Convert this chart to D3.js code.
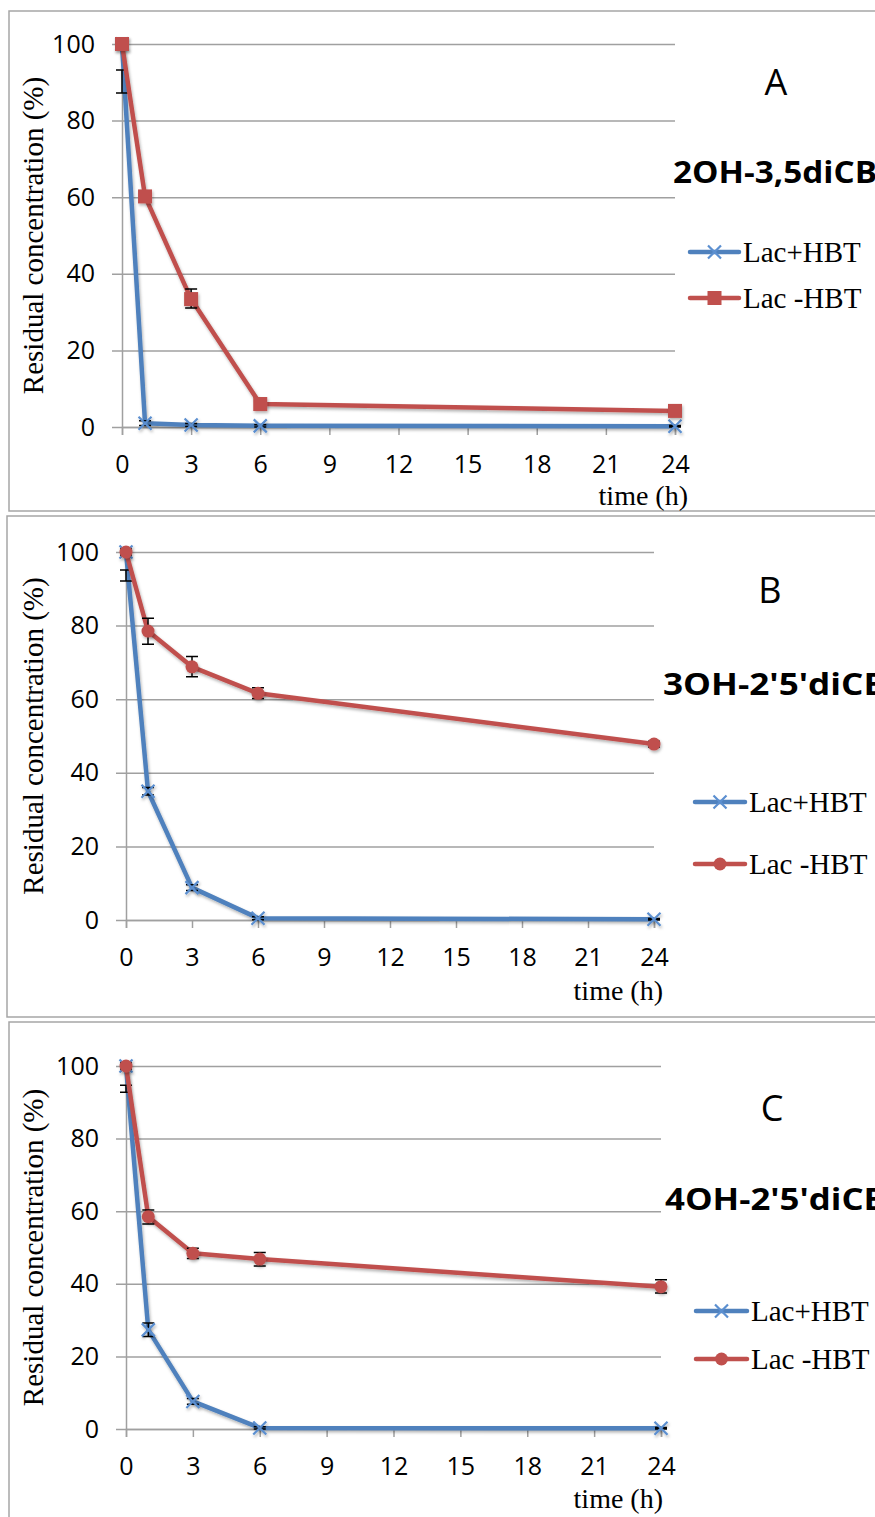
<!DOCTYPE html>
<html>
<head>
<meta charset="utf-8">
<script src="https://cdn.jsdelivr.net/npm/d3@7"></script>
<style>
  body { margin: 0; background: #fff; }
  svg { display: block; }
</style>
</head>
<body>
<svg width="875" height="1517"></svg>
<script>
// sampling times (h) and axis ticks
const hours = [0, 1, 3, 6, 24];
const xTicks = [0, 3, 6, 9, 12, 15, 18, 21, 24];
const yTicks = [0, 20, 40, 60, 80, 100];

const panelLetters = ['A', 'B', 'C'];
const compounds = ['2OH-3,5diCB', "3OH-2'5'diCB", "4OH-2'5'diCB"];
const seriesNames = ['Lac+HBT', 'Lac -HBT'];

// residual concentration (%), one row per panel
const lacHbt = [
  [100, 1.0, 0.5, 0.3, 0.2],
  [100, 35.0, 8.8, 0.5, 0.2],
  [100, 27.3, 7.6, 0.3, 0.2]
];
const lacNoHbt = [
  [100, 60.2, 33.4, 6.0, 4.2],
  [100, 78.5, 68.8, 61.6, 47.8],
  [100, 58.5, 48.4, 46.8, 39.2]
];

// error bars, low / high ends
const lacHbtLo = [
  [87.2, 0.4, 0.1, 0.0, 0.0],
  [92.1, 34.0, 8.0, 0.1, 0.0],
  [92.8, 25.5, 6.8, 0.0, 0.0]
];
const lacHbtHi = [
  [93.2, 1.6, 0.9, 0.6, 0.4],
  [95.1, 36.0, 9.6, 0.9, 0.4],
  [94.7, 29.2, 8.4, 0.6, 0.4]
];
const lacNoHbtLo = [
  [99.4, 59.4, 31.1, 5.2, 3.4],
  [99.2, 74.9, 66.1, 60.2, 47.0],
  [99.2, 56.5, 47.0, 44.9, 37.5]
];
const lacNoHbtHi = [
  [100.6, 61.0, 36.0, 6.8, 5.0],
  [100.8, 82.0, 71.6, 63.1, 48.6],
  [100.8, 60.3, 49.8, 48.6, 41.1]
];

// where each panel sits on the page
const layout = [
  { box: [9, 11, 1000, 500], x0: 122, x1: 675, yTop: 44, yBot: 427,
    title: [673, 183, 204], letter: [776, 95], legX: [690, 739, 743], legY: [252, 298],
    time: [688, 505], marker: 'square' },
  { box: [7, 516, 1000, 501], x0: 126, x1: 654, yTop: 552, yBot: 920,
    title: [663, 695, 224], letter: [770, 603], legX: [695, 745, 749], legY: [802, 864],
    time: [663, 1000], marker: 'circle' },
  { box: [9, 1022, 1000, 520], x0: 126, x1: 661, yTop: 1066, yBot: 1429,
    title: [665, 1210, 222], letter: [772, 1121], legX: [696, 747, 751], legY: [1311, 1359],
    time: [663, 1508], marker: 'circle' }
];

const blue = '#4f81bd', red = '#c0504d', grid = '#a0a0a0';
const sans = "'Open Sans', 'DejaVu Sans', sans-serif";
const serif = "'Liberation Serif', 'Times New Roman', serif";

const svg = d3.select('svg');

// soft shadow like the spreadsheet lines
svg.append('defs').append('filter')
  .attr('id', 'shadow')
  .attr('x', '-10%').attr('y', '-10%').attr('width', '120%').attr('height', '130%')
  .append('feDropShadow')
  .attr('dx', 1).attr('dy', 2).attr('stdDeviation', 1.5)
  .attr('flood-color', '#000').attr('flood-opacity', 0.3);

function drawMarker(g, type, cx, cy, color) {
  if (type === 'cross') {
    const s = 6.5;
    g.append('path')
      .attr('d', `M${cx - s},${cy - s}L${cx + s},${cy + s}M${cx - s},${cy + s}L${cx + s},${cy - s}`)
      .attr('stroke', '#5b8fd0').attr('stroke-width', 2.2).attr('fill', 'none');
  } else if (type === 'square') {
    g.append('rect')
      .attr('x', cx - 7).attr('y', cy - 7).attr('width', 14).attr('height', 14)
      .attr('fill', color);
  } else {
    g.append('circle').attr('cx', cx).attr('cy', cy).attr('r', 6.5).attr('fill', color);
  }
}

layout.forEach((L, p) => {
  const g = svg.append('g');

  // panel frame
  g.append('rect')
    .attr('x', L.box[0]).attr('y', L.box[1])
    .attr('width', L.box[2]).attr('height', L.box[3])
    .attr('fill', 'none').attr('stroke', '#a6a6a6').attr('stroke-width', 1.5);

  const x = d3.scaleLinear().domain([0, 24]).range([L.x0, L.x1]);
  const y = d3.scaleLinear().domain([0, 100]).range([L.yBot, L.yTop]);

  // horizontal gridlines (start a little left of the axis)
  g.append('g')
    .attr('transform', `translate(${L.x1},0)`)
    .call(d3.axisLeft(y).tickValues(yTicks).tickSize(L.x1 - L.x0 + 10).tickFormat(''))
    .call(a => a.select('.domain').remove())
    .call(a => a.selectAll('line').attr('stroke', grid).attr('stroke-width', 1.5));

  // y axis
  const ya = g.append('g')
    .attr('transform', `translate(${L.x0},0)`)
    .call(d3.axisLeft(y).tickValues(yTicks).tickSize(0).tickPadding(27));
  ya.select('.domain').attr('stroke', grid).attr('stroke-width', 1.5);
  ya.selectAll('text')
    .attr('font-family', sans).attr('font-size', 25).attr('fill', '#000');

  // x axis
  const xa = g.append('g')
    .attr('transform', `translate(0,${L.yBot})`)
    .call(d3.axisBottom(x).tickValues(xTicks).tickSize(8).tickPadding(20));
  xa.select('.domain').attr('stroke', grid).attr('stroke-width', 1.5);
  xa.selectAll('line').attr('stroke', grid).attr('stroke-width', 1.5);
  xa.selectAll('text')
    .attr('font-family', sans).attr('font-size', 25).attr('fill', '#000');

  // y title
  g.append('text')
    .attr('transform', `translate(33,${(L.yTop + L.yBot) / 2}) rotate(-90)`)
    .attr('text-anchor', 'middle').attr('dy', '0.35em')
    .attr('font-family', serif).attr('font-size', 29)
    .text('Residual concentration (%)');

  // x title
  g.append('text')
    .attr('x', L.time[0]).attr('y', L.time[1])
    .attr('text-anchor', 'end')
    .attr('font-family', serif).attr('font-size', 28)
    .text('time (h)');

  // panel letter and compound name
  g.append('text')
    .attr('x', L.letter[0]).attr('y', L.letter[1])
    .attr('text-anchor', 'middle')
    .attr('font-family', sans).attr('font-size', 36)
    .text(panelLetters[p]);
  g.append('text')
    .attr('x', L.title[0]).attr('y', L.title[1])
    .attr('textLength', L.title[2]).attr('lengthAdjust', 'spacingAndGlyphs')
    .attr('font-family', sans).attr('font-weight', 'bold').attr('font-size', 30)
    .text(compounds[p]);

  const series = [
    { vals: lacHbt[p], lo: lacHbtLo[p], hi: lacHbtHi[p], color: blue, marker: 'cross' },
    { vals: lacNoHbt[p], lo: lacNoHbtLo[p], hi: lacNoHbtHi[p], color: red, marker: L.marker }
  ];

  const line = d3.line().x((d, i) => x(hours[i])).y(d => y(d));

  series.forEach((s, k) => {
    const sg = g.append('g');
    sg.append('path')
      .datum(s.vals)
      .attr('d', line)
      .attr('fill', 'none').attr('stroke', s.color)
      .attr('stroke-width', 4.5).attr('stroke-linejoin', 'round')
      .attr('filter', 'url(#shadow)');

    // error bars
    hours.forEach((h, i) => {
      const cx = x(h), a = y(s.lo[i]), b = y(s.hi[i]);
      sg.append('path')
        .attr('d', `M${cx},${a}V${b}M${cx - 6},${a}H${cx + 6}M${cx - 6},${b}H${cx + 6}`)
        .attr('stroke', '#000').attr('stroke-width', 1.5).attr('fill', 'none');
    });

    const mg = sg.append('g').attr('filter', 'url(#shadow)');
    s.vals.forEach((v, i) => drawMarker(mg, s.marker, x(hours[i]), y(v), s.color));

    // legend entry
    const ly = L.legY[k];
    g.append('line')
      .attr('x1', L.legX[0]).attr('x2', L.legX[1]).attr('y1', ly).attr('y2', ly)
      .attr('stroke', s.color).attr('stroke-width', 4.5).attr('stroke-linecap', 'round');
    drawMarker(g, s.marker, (L.legX[0] + L.legX[1]) / 2, ly, s.color);
    g.append('text')
      .attr('x', L.legX[2]).attr('y', ly + 10)
      .attr('font-family', serif).attr('font-size', 29)
      .text(seriesNames[k]);
  });
});
</script>
</body>
</html>
